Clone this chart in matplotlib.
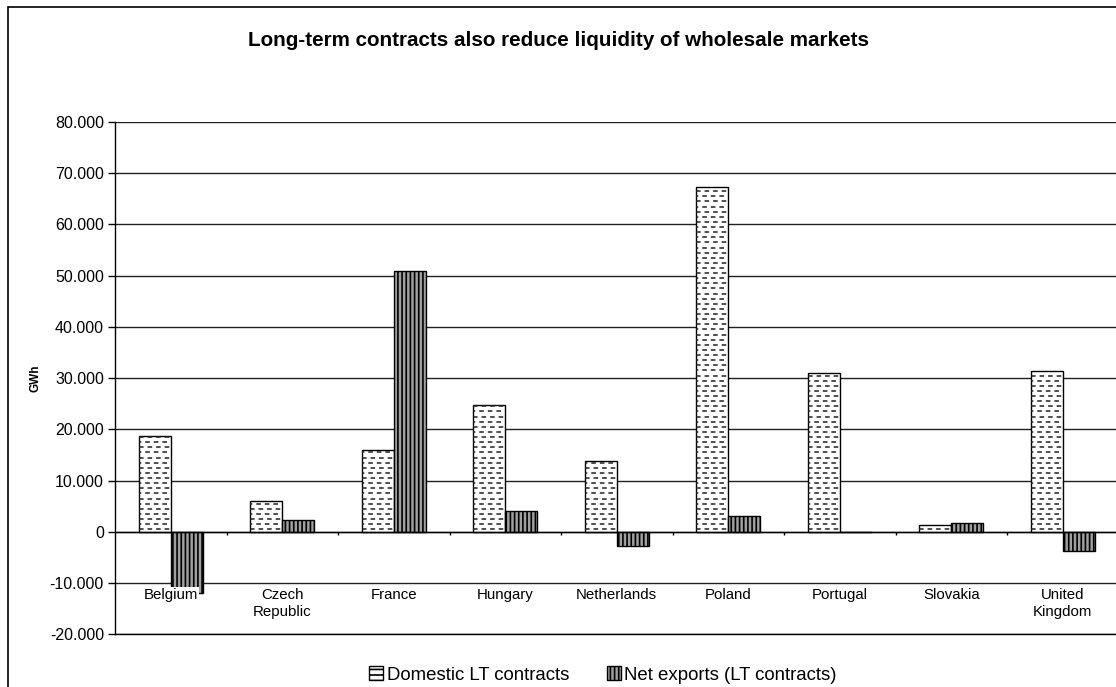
import numpy as np
import matplotlib.pyplot as plt
from matplotlib.patches import Patch, Rectangle
from matplotlib.collections import LineCollection

plt.rcParams['font.family'] = ['Liberation Sans', 'DejaVu Sans']
plt.rcParams['hatch.linewidth'] = 1.2

# Long-term contract volumes per country (GWh)
countries = ['Belgium', 'Czech\nRepublic', 'France', 'Hungary', 'Netherlands',
             'Poland', 'Portugal', 'Slovakia', 'United\nKingdom']
domestic = [18700, 6100, 16000, 24700, 13900, 67400, 31000, 1300, 31300]
net_exports = [-11900, 2300, 51000, 4000, -2700, 3100, 0, 1700, -3700]
series_names = ['Domestic LT contracts', 'Net exports (LT contracts)']
y_ticks = np.arange(-20000, 80001, 10000)

fig = plt.figure(figsize=(11.16, 6.87), dpi=100)
ax = fig.add_axes([115 / 1116, 52.7 / 687, 1003.5 / 1116, 512.3 / 687])

x = np.arange(len(countries))
w = 0.287

dom_bars = ax.bar(x - w / 2, domestic, w, facecolor='white', edgecolor='black',
                  linewidth=1, zorder=3)
net_bars = ax.bar(x + w / 2, net_exports, w, facecolor='#a0a0a0', edgecolor='black',
                  hatch='||||', linewidth=1, zorder=3)

# staggered dashed rows inside the domestic bars
for bar in dom_bars:
    x0, h, bw = bar.get_x(), bar.get_height(), bar.get_width()
    segs, styles = [], []
    for k, yy in enumerate(np.arange(500, h, 1000)):
        segs.append([(x0, yy), (x0 + bw, yy)])
        styles.append((1.5 if k % 2 else 0.0, (3.0, 2.6)))
    lc = LineCollection(segs, colors='#202020', linewidths=1.1,
                        linestyles=styles, zorder=4)
    lc.set_clip_path(bar)
    ax.add_collection(lc)

ax.set_xlim(-0.5, len(countries) - 0.5)
ax.set_ylim(-20000, 80000)
ax.set_yticks(y_ticks)
ax.set_yticklabels([f'{v:,.0f}'.replace(',', '.') for v in y_ticks], fontsize=11.5)
ax.set_xticks([])
ax.tick_params(axis='y', direction='out', length=5, width=1, pad=3)
for yv in y_ticks:
    ax.axhline(yv, color='#202020', linewidth=1, zorder=1)
ax.axhline(0, color='black', linewidth=1, zorder=5)
ax.vlines(x[:-1] + 0.5, -700, 0, color='black', linewidth=1, zorder=5)

for s in ['top', 'right']:
    ax.spines[s].set_visible(False)
ax.spines['left'].set_linewidth(1)
ax.spines['bottom'].set_linewidth(1)

ax.set_ylabel('GWh', fontsize=8.5, fontweight='bold', labelpad=6)

# category names below the bars
for xi, name in zip(x, countries):
    ax.text(xi, 0.090, name, transform=ax.get_xaxis_transform(), ha='center',
            va='top', fontsize=10.8, linespacing=1.3, zorder=6,
            bbox=dict(facecolor='white', edgecolor='none', pad=1))

fig.text(0.5, 1 - 40 / 687, 'Long-term contracts also reduce liquidity of wholesale markets',
         ha='center', va='center', fontsize=14.9, fontweight='bold')

handles = [Patch(facecolor='white', edgecolor='black', hatch='---'),
           Patch(facecolor='#a0a0a0', edgecolor='black', hatch='||||')]
fig.legend(handles, series_names, loc='center', bbox_to_anchor=(603 / 1116, 12 / 687),
           ncol=2, frameon=False, fontsize=13.4, handlelength=0.75, handleheight=0.7,
           handletextpad=0.2, columnspacing=2.0)

fig.patches.append(Rectangle((8 / 1116, -0.05), 1.2, 1.05 - 7 / 687,
                             transform=fig.transFigure, fill=False,
                             edgecolor='black', linewidth=1.2))

fig.savefig('out.png', dpi=100)
